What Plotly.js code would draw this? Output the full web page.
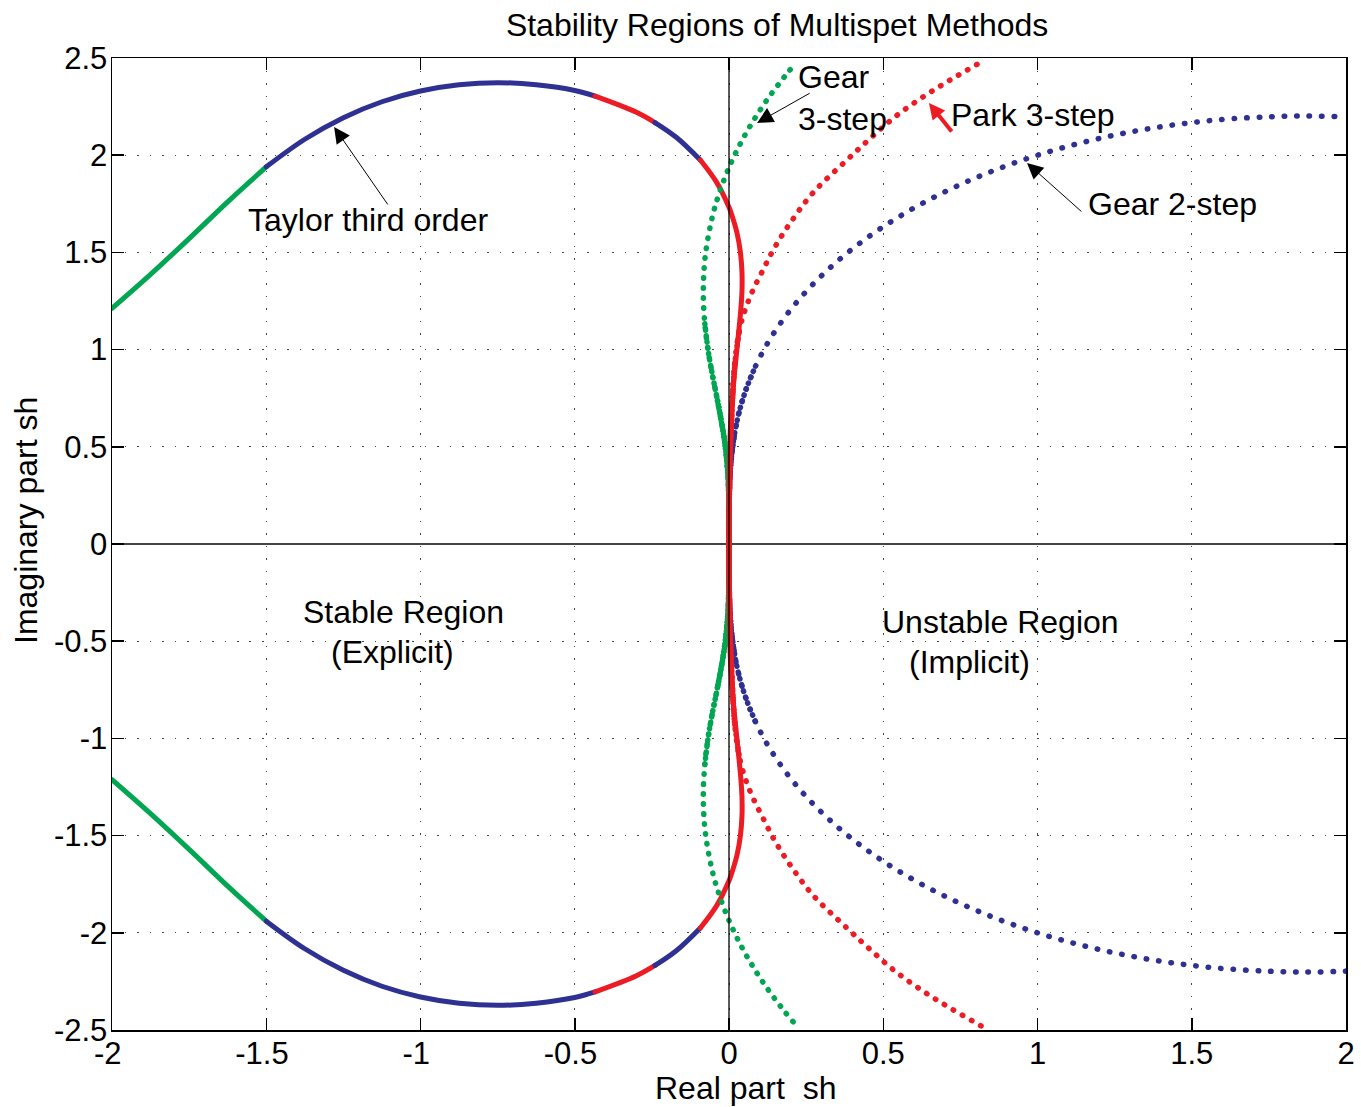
<!DOCTYPE html>
<html><head><meta charset="utf-8">
<script src="https://cdn.plot.ly/plotly-3.0.1.min.js"></script>
<style>
html,body{margin:0;padding:0;background:#fff;}
#chart{width:1361px;height:1107px;}
.scatterlayer .js-line{stroke-linecap:round !important;}
</style></head><body><div id="chart"></div>
<script>
// ---------- data ----------
// Taylor third order boundary, segments by colour
const taylorGreenX = [-2.0, -1.875, -1.75, -1.625, -1.5];
const taylorGreenUpY = [1.212, 1.387, 1.571, 1.760, 1.940];
const taylorGreenLoY = [-1.212, -1.387, -1.571, -1.760, -1.940];

const taylorBlue1X = [-1.5, -1.375, -1.25, -1.125, -1.0, -0.875, -0.75, -0.625, -0.5, -0.434];
const taylorBlue1UpY = [1.940, 2.082, 2.193, 2.275, 2.330, 2.362, 2.373, 2.362, 2.333, 2.304];
const taylorBlue1LoY = [-1.940, -2.082, -2.193, -2.275, -2.330, -2.362, -2.373, -2.362, -2.333, -2.304];

const taylorRed1X = [-0.434, -0.3, -0.24];
const taylorRed1UpY = [2.304, 2.221, 2.168];
const taylorRed1LoY = [-2.304, -2.221, -2.168];

const taylorBlue2X = [-0.24, -0.17, -0.093];
const taylorBlue2UpY = [2.168, 2.091, 1.975];
const taylorBlue2LoY = [-2.168, -2.091, -1.975];

const taylorRed2X = [-0.093, -0.040, 0, 0.0075, 0.026, 0.037, 0.042, 0.042, 0.038, 0.0256, 0.013, 0.0047, 0.0012, 0,
                     0.0012, 0.0047, 0.013, 0.0256, 0.038, 0.042, 0.042, 0.037, 0.026, 0.0075, 0, -0.040, -0.093];
const taylorRed2Y = [1.975, 1.86, 1.732, 1.70, 1.60, 1.50, 1.40, 1.30, 1.20, 1.00, 0.80, 0.60, 0.40, 0,
                     -0.40, -0.60, -0.80, -1.00, -1.20, -1.30, -1.40, -1.50, -1.60, -1.70, -1.732, -1.86, -1.975];

// Gear 2-step boundary
const gear2X = [2.0, 1.9788, 1.8888, 1.805, 1.5846, 1.3774, 1.182, 1.0, 0.8332, 0.6829, 0.5494, 0.433, 0.3333, 0.25, 0.1818, 0.1276, 0.0858, 0.0548, 0.0327, 0.018, 0.0088, 0.0036, 0.0012, 0.0002, 0.0, 0,
                0.0, 0.0002, 0.0012, 0.0036, 0.0088, 0.018, 0.0327, 0.0548, 0.0858, 0.1276, 0.1818, 0.25, 0.3333, 0.433, 0.5494, 0.6829, 0.8332, 1.0, 1.182, 1.3774, 1.5846, 1.805, 1.8888, 1.9788, 2.0];
const gear2Y = [-2.197, -2.1986, -2.2017, -2.2008, -2.1818, -2.1406, -2.0793, -2.0, -1.9055, -1.7986, -1.6818, -1.558, -1.4296, -1.299, -1.1685, -1.0396, -0.9142, -0.7932, -0.6773, -0.567, -0.4622, -0.3626, -0.2676, -0.1762, -0.0875, 0,
                0.0875, 0.1762, 0.2676, 0.3626, 0.4622, 0.567, 0.6773, 0.7932, 0.9142, 1.0396, 1.1685, 1.299, 1.4296, 1.558, 1.6818, 1.7986, 1.9055, 2.0, 2.0793, 2.1406, 2.1818, 2.2008, 2.2017, 2.1986, 2.197];

// Gear 3-step boundary
const gear3X = [0.2079, 0.1809, 0.1204, 0.0696, 0.0274, -0.0065, -0.0331, -0.0532, -0.0768, -0.0833, -0.0784, -0.0669, -0.0523, -0.0376, -0.0148, -0.0034, -0.0003, 0,
                -0.0003, -0.0034, -0.0148, -0.0376, -0.0523, -0.0669, -0.0784, -0.0833, -0.0768, -0.0532, -0.0331, -0.0065, 0.0274, 0.0696, 0.1204, 0.1809, 0.2079];
const gear3Y = [-2.4579, -2.4061, -2.2781, -2.1527, -2.0305, -1.9121, -1.7978, -1.6882, -1.4836, -1.2990, -1.1343, -0.9876, -0.857, -0.7399, -0.5343, -0.3506, -0.1746, 0,
                0.1746, 0.3506, 0.5343, 0.7399, 0.857, 0.9876, 1.1343, 1.2990, 1.4836, 1.6882, 1.7978, 1.9121, 2.0305, 2.1527, 2.2781, 2.4061, 2.4579];

// Park 3-step boundary
const parkX = [0.817, 0.720, 0.629, 0.538, 0.457, 0.382, 0.272, 0.200, 0.149, 0.110, 0.068, 0.036, 0.019, 0.010, 0.003, 0,
               0.003, 0.010, 0.019, 0.036, 0.068, 0.110, 0.149, 0.200, 0.272, 0.382, 0.457, 0.538, 0.629, 0.720, 0.817];
const parkY = [-2.479, -2.390, -2.300, -2.197, -2.085, -1.975, -1.806, -1.655, -1.528, -1.409, -1.271, -1.116, -0.931, -0.705, -0.400, 0,
               0.400, 0.705, 0.931, 1.116, 1.271, 1.409, 1.528, 1.655, 1.806, 1.975, 2.085, 2.197, 2.300, 2.390, 2.479];

// ticks
const xTickVals = [-2, -1.5, -1, -0.5, 0, 0.5, 1, 1.5, 2];
const xTickText = ['-2\u00a0', '-1.5\u00a0', '-1\u00a0', '-0.5\u00a0', '0', '0.5', '1', '1.5', '2'];
const yTickVals = [-2.5, -2, -1.5, -1, -0.5, 0, 0.5, 1, 1.5, 2, 2.5];
const yTickText = ['-2.5', '-2', '-1.5', '-1', '-0.5', '0', '0.5', '1', '1.5', '2', '2.5'];

// ---------- styling ----------
const GREEN = '#00A651', BLUE = '#2E3192', RED = '#ED1C24';
const FONT = 'Liberation Sans, Arial, Helvetica, sans-serif';
const FS = 32, TFS = 31;

function solid(x, y, color, w) {
  return {x: x, y: y, mode: 'lines', type: 'scatter', hoverinfo: 'skip',
          line: {color: color, width: w || 5, shape: 'spline', smoothing: 1}};
}
function dotted(x, y, color, gap, w) {
  return {x: x, y: y, mode: 'lines', type: 'scatter', hoverinfo: 'skip',
          line: {color: color, width: w, shape: 'spline', smoothing: 1, dash: '0.5px,' + gap + 'px'}};
}
// part of a dotted curve near the origin, where the markers crowd together
function near(x, y, lim) {
  const idx = y.map((v, i) => i).filter(i => Math.abs(y[i]) <= lim);
  return [idx.map(i => x[i]), idx.map(i => y[i])];
}
const g2a = near(gear2X, gear2Y, 0.6), g2b = near(gear2X, gear2Y, 0.92);
const g3a = near(gear3X, gear3Y, 0.75), g3b = near(gear3X, gear3Y, 1.14);
const pka = near(parkX, parkY, 0.94), pkb = near(parkX, parkY, 1.12);

const traces = [
  solid(taylorGreenX, taylorGreenUpY, GREEN),
  solid(taylorGreenX, taylorGreenLoY, GREEN),
  solid(taylorBlue1X, taylorBlue1UpY, BLUE),
  solid(taylorBlue1X, taylorBlue1LoY, BLUE),
  solid(taylorRed1X, taylorRed1UpY, RED),
  solid(taylorRed1X, taylorRed1LoY, RED),
  solid(taylorBlue2X, taylorBlue2UpY, BLUE),
  solid(taylorBlue2X, taylorBlue2LoY, BLUE),
  solid(taylorRed2X, taylorRed2Y, RED),
  dotted(g2a[0], g2a[1], BLUE, 2.5, 5.5),
  dotted(g2b[0], g2b[1], BLUE, 6, 5.5),
  dotted(gear2X, gear2Y, BLUE, 12, 5.5),
  dotted(g3a[0], g3a[1], GREEN, 2.5, 5.5),
  dotted(g3b[0], g3b[1], GREEN, 5.5, 5.5),
  dotted(gear3X, gear3Y, GREEN, 9.5, 5.5),
  dotted(pka[0], pka[1], RED, 2.5, 5.5),
  dotted(pkb[0], pkb[1], RED, 6, 5.5),
  dotted(parkX, parkY, RED, 10, 5.5)
];

const axisCommon = {
  showline: true, linecolor: '#000', linewidth: 1.5, mirror: 'ticks',
  ticks: 'inside', ticklen: 12, tickwidth: 1.5, tickcolor: '#000',
  showgrid: true, gridcolor: '#444', gridwidth: 1, griddash: '1.5px,11px',
  tickfont: {family: FONT, size: TFS, color: '#000'},
  tickmode: 'array', fixedrange: true
};

const txt = (text, x, y, opts) => Object.assign({
  text: text, x: x, y: y, xref: 'x', yref: 'y', showarrow: false,
  xanchor: 'left', yanchor: 'middle', align: 'left',
  font: {family: FONT, size: FS, color: '#000'}
}, opts || {});
const arrow = (x, y, ax, ay, color, width, size) => ({
  text: '', x: x, y: y, ax: ax, ay: ay, xref: 'x', yref: 'y', axref: 'x', ayref: 'y',
  showarrow: true, arrowhead: 2, arrowsize: size, arrowwidth: width, arrowcolor: color,
  font: {size: 1}, borderpad: 0
});

const layout = {
  width: 1361, height: 1107,
  margin: {l: 112, r: 15, t: 58, b: 77},
  paper_bgcolor: '#fff', plot_bgcolor: '#fff',
  showlegend: false,
  title: {text: 'Stability Regions of Multispet Methods', font: {family: FONT, size: FS, color: '#000'},
          x: 0.571, xref: 'container', xanchor: 'center', y: 0.978, yref: 'container', yanchor: 'middle'},
  xaxis: Object.assign({}, axisCommon, {range: [-2, 2], tickvals: xTickVals, ticktext: xTickText,
          zeroline: false, ticklabelstandoff: -5}),
  yaxis: Object.assign({}, axisCommon, {range: [-2.5, 2.5], tickvals: yTickVals, ticktext: yTickText,
          zeroline: true, zerolinecolor: '#444', zerolinewidth: 2, ticklabelstandoff: -3}),
  shapes: [
    {type: 'line', xref: 'x', yref: 'paper', x0: 0, x1: 0, y0: 0, y1: 1, layer: 'above',
     line: {color: '#000', width: 1.3}}
  ],
  annotations: [
    txt('Taylor third order', -1.170, 1.667, {xanchor: 'center'}),
    arrow(-1.280, 2.145, -1.105, 1.744, '#000', 1, 3.2),
    txt('Gear<br>3-step', 0.218, 2.294),
    arrow(0.091, 2.166, 0.263, 2.320, '#000', 1, 3.2),
    txt('Park 3-step', 0.714, 2.207),
    arrow(0.648, 2.268, 0.723, 2.119, RED, 4, 0.8),
    txt('Gear 2-step', 1.158, 1.749),
    arrow(0.966, 1.960, 1.144, 1.708, '#000', 1, 3.2),
    txt('Stable Region', -1.386, -0.350),
    txt('(Explicit)', -1.295, -0.556),
    txt('Unstable Region', 0.491, -0.401),
    txt('(Implicit)', 0.578, -0.607),
    {text: 'Real part\u00a0 sh', xref: 'paper', yref: 'paper', x: 0.513, y: -0.0597,
     xanchor: 'center', yanchor: 'middle', showarrow: false, font: {family: FONT, size: FS, color: '#000'}},
    {text: 'Imaginary part sh', xref: 'paper', yref: 'paper', x: -0.0697, y: 0.5247, textangle: -90,
     xanchor: 'center', yanchor: 'middle', showarrow: false, font: {family: FONT, size: FS, color: '#000'}}
  ]
};

Plotly.newPlot('chart', traces, layout, {displayModeBar: false, staticPlot: true});
</script></body></html>
